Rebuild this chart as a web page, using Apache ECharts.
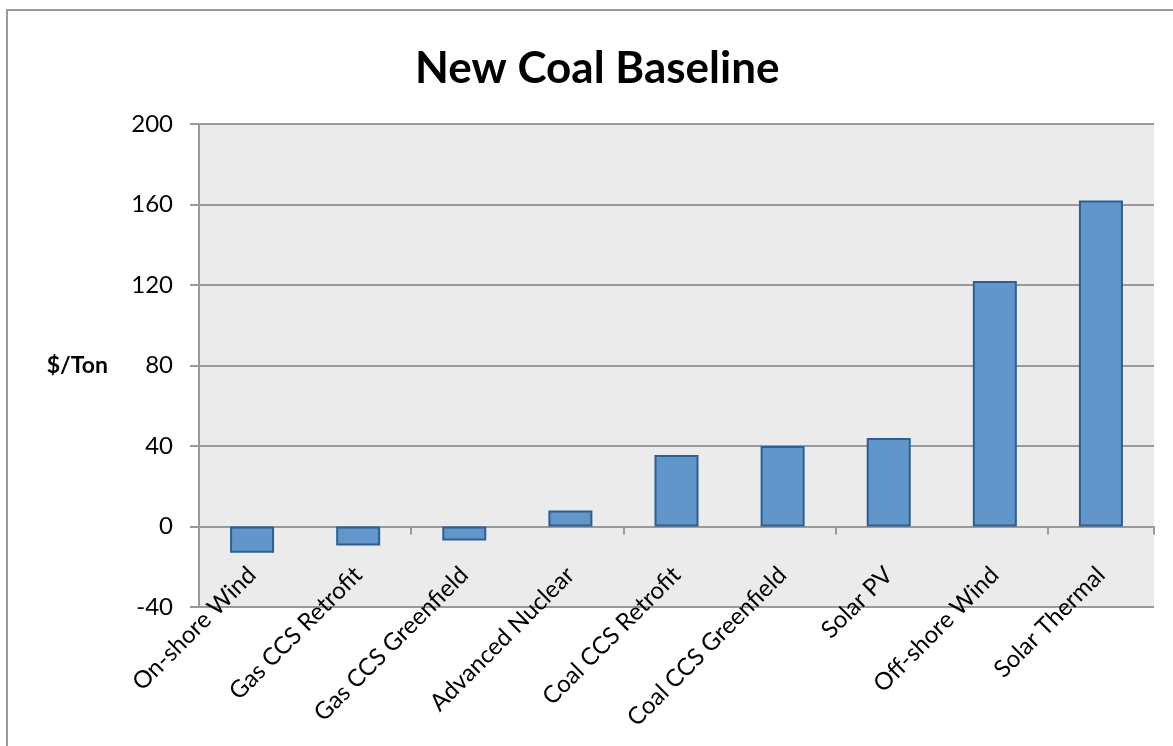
<!DOCTYPE html>
<html lang="en">
<head>
    <meta charset="UTF-8">
    <title>New Coal Baseline</title>
    <script src="https://cdn.jsdelivr.net/npm/echarts@6/dist/echarts.min.js"></script>
    <style>
        html, body { margin: 0; padding: 0; background: #fff; }
        #charts { width: 1173px; height: 746px; }
    </style>
</head>
<body>
<div id="charts"></div>
<script>
    // data
    var categories = ['On-shore Wind', 'Gas CCS Retrofit', 'Gas CCS Greenfield', 'Advanced Nuclear',
        'Coal CCS Retrofit', 'Coal CCS Greenfield', 'Solar PV', 'Off-shore Wind', 'Solar Thermal'];
    var costPerTon = [-13, -9.5, -7, 8, 35.5, 40, 44, 122, 162];
    var yTicks = [-40, 0, 40, 80, 120, 160, 200];

    var font = 'Lato, "Open Sans", sans-serif';
    var grey = '#9a9a9a';

    var option = {
        animation: false,
        backgroundColor: '#fff',
        textStyle: { fontFamily: font },
        title: {
            text: 'New Coal Baseline',
            left: 410,
            top: 42,
            textStyle: { fontFamily: font, fontWeight: 'bold', fontSize: 44, color: '#000' }
        },
        graphic: [{
            type: 'rect',
            shape: { x: 7, y: 10, width: 1250, height: 900 },
            style: { fill: 'none', stroke: grey, lineWidth: 2 },
            silent: true
        }],
        grid: {
            left: 199,
            right: 19,
            top: 124,
            bottom: 139,
            show: true,
            backgroundColor: '#ebebeb',
            borderWidth: 0
        },
        xAxis: [{
            // labels along the bottom edge
            type: 'category',
            data: categories,
            position: 'bottom',
            axisLine: { show: false, onZero: false },
            axisTick: { show: false },
            axisLabel: {
                interval: 0,
                rotate: 45,
                margin: -36,
                fontSize: 24,
                color: '#000',
                fontFamily: font
            },
            splitLine: { show: false }
        }, {
            // axis line + ticks on the zero line
            type: 'category',
            data: categories,
            position: 'top',
            axisLine: { show: true, onZero: true, lineStyle: { color: grey, width: 2 } },
            axisTick: { show: true, inside: true, length: 8, lineStyle: { color: grey, width: 2 } },
            axisLabel: { show: false },
            splitLine: { show: false }
        }],
        yAxis: {
            type: 'value',
            min: yTicks[0],
            max: yTicks[yTicks.length - 1],
            interval: 40,
            name: '$/Ton',
            nameLocation: 'middle',
            nameRotate: 0,
            nameGap: 91,
            nameTextStyle: { fontFamily: font, fontWeight: 'bold', fontSize: 23, color: '#000', align: 'right' },
            axisLine: { show: true, lineStyle: { color: grey, width: 2 } },
            axisTick: { show: true, length: 9, lineStyle: { color: grey, width: 2 } },
            axisLabel: { margin: 26, fontSize: 24, color: '#000', fontFamily: font },
            splitLine: { show: true, lineStyle: { color: grey, width: 2 } }
        },
        series: [{
            type: 'bar',
            xAxisIndex: 0,
            data: costPerTon,
            barWidth: 44,
            itemStyle: {
                color: '#6096c9',
                borderColor: '#2d5f93',
                borderWidth: 2
            }
        }]
    };

    var myChart = echarts.init(document.getElementById('charts'));
    myChart.setOption(option);
</script>
</body>
</html>
